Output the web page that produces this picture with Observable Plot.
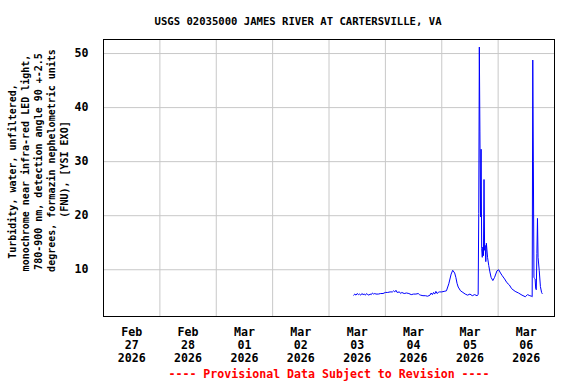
<!DOCTYPE html>
<html><head><meta charset="utf-8">
<script src="https://cdn.jsdelivr.net/npm/d3@7"></script>
<script src="https://cdn.jsdelivr.net/npm/@observablehq/plot@0.6"></script>
<style>
body{margin:0;background:#fff;}
</style></head><body>
<div id="chart"></div>
<script>
const title = "USGS 02035000 JAMES RIVER AT CARTERSVILLE, VA";
const caption = "---- Provisional Data Subject to Revision ----";
const yLabelLines = [
  "Turbidity, water, unfiltered,",
  "monochrome near infra-red LED light,",
  "780-900 nm, detection angle 90 +-2.5",
  "degrees, formazin nephelometric units",
  "(FNU), [YSI EXO]"
];

const times = [
"2026-03-03T10:30","2026-03-03T11:00","2026-03-03T11:30","2026-03-03T12:00","2026-03-03T12:30","2026-03-03T13:00",
"2026-03-03T13:30","2026-03-03T14:00","2026-03-03T14:30","2026-03-03T15:00","2026-03-03T15:30","2026-03-03T16:00",
"2026-03-03T16:30","2026-03-03T17:00","2026-03-03T17:30","2026-03-03T18:00","2026-03-03T18:30","2026-03-03T19:00",
"2026-03-03T19:30","2026-03-03T20:00","2026-03-03T21:00","2026-03-03T22:00","2026-03-03T23:00",
"2026-03-04T00:00","2026-03-04T01:00","2026-03-04T02:00","2026-03-04T03:00","2026-03-04T03:30","2026-03-04T04:00",
"2026-03-04T04:30","2026-03-04T05:00","2026-03-04T06:00","2026-03-04T06:30","2026-03-04T07:00","2026-03-04T08:00",
"2026-03-04T09:00","2026-03-04T10:00","2026-03-04T11:00","2026-03-04T12:00","2026-03-04T13:00","2026-03-04T14:00",
"2026-03-04T14:30","2026-03-04T15:00","2026-03-04T16:00","2026-03-04T17:00","2026-03-04T18:00","2026-03-04T19:00",
"2026-03-04T19:30","2026-03-04T20:00","2026-03-04T20:30","2026-03-04T21:00","2026-03-04T21:30","2026-03-04T22:00",
"2026-03-04T22:30","2026-03-04T23:00",
"2026-03-05T00:00","2026-03-05T01:00","2026-03-05T02:00","2026-03-05T03:00","2026-03-05T04:00","2026-03-05T04:40",
"2026-03-05T05:30","2026-03-05T06:00","2026-03-05T06:30","2026-03-05T07:00","2026-03-05T08:00","2026-03-05T09:00",
"2026-03-05T10:00","2026-03-05T11:00","2026-03-05T12:00","2026-03-05T13:00","2026-03-05T14:00","2026-03-05T15:00",
"2026-03-05T15:30","2026-03-05T15:45","2026-03-05T16:00","2026-03-05T16:15","2026-03-05T16:30","2026-03-05T16:45",
"2026-03-05T17:00","2026-03-05T17:15","2026-03-05T17:30","2026-03-05T17:45","2026-03-05T18:00","2026-03-05T18:15",
"2026-03-05T18:30","2026-03-05T18:45","2026-03-05T19:00","2026-03-05T19:30","2026-03-05T20:00","2026-03-05T20:30",
"2026-03-05T21:00","2026-03-05T21:45","2026-03-05T22:30","2026-03-05T23:30",
"2026-03-06T00:15","2026-03-06T01:00","2026-03-06T01:45","2026-03-06T02:45","2026-03-06T03:45","2026-03-06T04:45",
"2026-03-06T05:45","2026-03-06T07:15","2026-03-06T08:40","2026-03-06T10:10","2026-03-06T11:35","2026-03-06T12:30",
"2026-03-06T13:30","2026-03-06T14:15","2026-03-06T14:30","2026-03-06T14:45","2026-03-06T15:00","2026-03-06T15:15",
"2026-03-06T15:30","2026-03-06T15:45","2026-03-06T16:00","2026-03-06T16:15","2026-03-06T16:30","2026-03-06T16:45",
"2026-03-06T17:00","2026-03-06T17:30","2026-03-06T18:00","2026-03-06T18:30","2026-03-06T18:45"
];
const values = [
5.3,5.5,5.3,5.6,5.4,5.5,
5.3,5.6,5.4,5.5,5.3,5.6,
5.4,5.3,5.5,5.4,5.7,5.5,
5.6,5.5,5.5,5.6,5.6,
5.8,5.8,5.9,5.9,6.1,5.9,
6.2,5.8,5.9,5.6,5.8,5.6,
5.7,5.6,5.4,5.5,5.5,5.6,
5.4,5.3,5.2,5.2,5.1,5.3,
5.7,5.4,5.8,5.5,6.0,5.6,
5.8,5.9,
5.9,6.0,6.1,7.4,9.2,9.9,
9.4,8.6,7.5,6.8,6.1,5.8,
5.5,5.3,5.5,5.2,5.4,5.2,
5.4,20.4,51.2,35.5,19.8,32.3,
13.9,12.3,14.2,12.6,26.7,13.6,
14.5,11.5,14.9,12.3,10.8,9.6,
8.6,8.0,8.6,9.8,
10.0,9.4,8.9,8.3,7.6,7.2,
6.5,6.0,5.7,5.3,5.0,5.4,
5.2,5.1,5.0,48.8,30.0,8.6,
8.4,8.3,6.5,6.3,13.0,19.5,
12.3,9.9,6.9,5.8,5.6
];

const dayCenters = ["2026-02-27T12:00","2026-02-28T12:00","2026-03-01T12:00","2026-03-02T12:00","2026-03-03T12:00","2026-03-04T12:00","2026-03-05T12:00","2026-03-06T12:00"];
const monthLabels = ["Feb","Feb","Mar","Mar","Mar","Mar","Mar","Mar"];
const dayLabels = ["27","28","01","02","03","04","05","06"];
const yearLabels = ["2026","2026","2026","2026","2026","2026","2026","2026"];
const dayBounds = ["2026-02-28","2026-03-01","2026-03-02","2026-03-03","2026-03-04","2026-03-05","2026-03-06"];
const yTicks = [10,20,30,40,50];
const xDomain = ["2026-02-27","2026-03-07"];
const yDomain = [1.35, 52.6];

const parse = s => new Date(s.length === 10 ? s + "T00:00Z" : s + "Z");
const data = times.map((t, i) => ({t: parse(t), v: values[i]}));
const xLabelData = dayCenters.map((d, i) => ({t: parse(d), label: monthLabels[i] + "\n" + dayLabels[i] + "\n" + yearLabels[i]}));
const gridX = dayBounds.map(parse);

// screen placement of each y-label line (column centre x, line centre y)
const labelPlacement = [[12.7, 171], [25.6, 162.5], [38.5, 161], [51.4, 160], [64.3, 169]];
const frameLeft = 103, frameMidY = (39 + 316) / 2;
const yLabelMarks = yLabelLines.map((line, i) => Plot.text([line], {
  frameAnchor: "left", text: d => d, rotate: -90, textAnchor: "middle", lineAnchor: "middle",
  dx: labelPlacement[i][0] - frameLeft, dy: labelPlacement[i][1] - frameMidY,
  fontSize: 10, fill: "black"
}));

const chart = Plot.plot({
  width: 576,
  height: 384,
  marginTop: 39,
  marginBottom: 68,
  marginLeft: 103,
  marginRight: 22,
  style: {fontFamily: "DejaVu Sans Mono", fontWeight: "bold", fontSize: "11.6px", color: "black", background: "white"},
  x: {type: "utc", domain: xDomain.map(parse), axis: null},
  y: {domain: yDomain, axis: null},
  marks: [
    Plot.ruleY(yTicks, {stroke: "#c8c8c8", strokeWidth: 1}),
    Plot.ruleX(gridX, {stroke: "#c8c8c8", strokeWidth: 1}),
    Plot.frame({stroke: "black", strokeWidth: 1}),
    Plot.line(data, {x: "t", y: "v", stroke: "#0000ff", strokeWidth: 1}),
    Plot.text(yTicks, {y: d => d, frameAnchor: "left", text: d => String(d), textAnchor: "end", dx: -15, fill: "black"}),
    Plot.text(xLabelData, {x: "t", frameAnchor: "bottom", text: "label", lineAnchor: "top", dy: 10, lineHeight: 1.12, fill: "black"}),
    Plot.text([title], {frameAnchor: "top", text: d => d, dx: -31, dy: -22, fontSize: 10.6, fill: "black"}),
    Plot.text([caption], {frameAnchor: "bottom", text: d => d, dy: 61, fill: "#ff0000"}),
    ...yLabelMarks
  ]
});
document.getElementById("chart").appendChild(chart);
</script>
</body></html>
